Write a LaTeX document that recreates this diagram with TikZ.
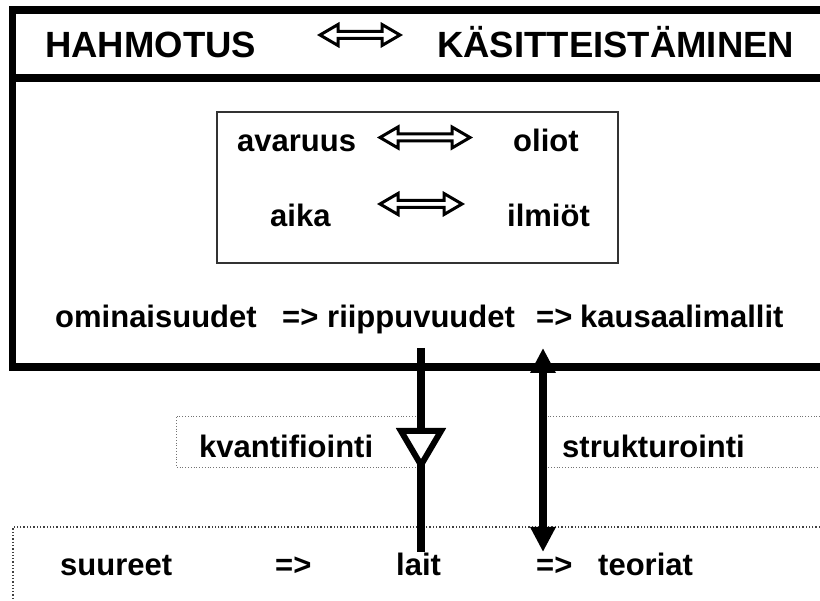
\documentclass[tikz,border=0pt]{standalone}
\usepackage{fontspec}
\setmainfont{Liberation Sans}
\usetikzlibrary{arrows.meta}
\begin{document}
\begin{tikzpicture}[x=1pt,y=-1pt,
  lbl/.style={anchor=base west, inner sep=0pt, font=\bfseries\fontsize{31}{31}\selectfont},
  headlbl/.style={anchor=base west, inner sep=0pt, font=\bfseries\fontsize{36.5}{36.5}\selectfont},
  frame/.style={line width=7.5pt, line join=miter},
  hollow/.style={draw, line width=3pt, fill=white, line join=miter},
  dotbox/.style={draw=black!55, line width=0.8pt, dotted},
  bigdot/.style={draw=black!75, line width=1.3pt, dotted},
  shaft/.style={line width=8pt},
  pics/dblarrow/.style={code={
    \draw[hollow] (0,0) -- (18,-10.5) -- (18,-3.5) -- (#1-18,-3.5) -- (#1-18,-10.5)
      -- (#1,0) -- (#1-18,10.5) -- (#1-18,3.5) -- (18,3.5) -- (18,10.5) -- cycle;}}
]
\useasboundingbox (0,0) rectangle (820,601);

% outer frame: heading strip and main panel
\draw[frame] (820,10) -- (12.5,10) -- (12.5,367) -- (820,367);
\draw[frame] (12.5,78) -- (820,78);

% heading
\node[headlbl] (hahmo) at (45,58) {HAHMOTUS};
\node[headlbl] (kasit) at (437,58) {KÄSITTEISTÄMINEN};
\pic at (320,35) {dblarrow=80};

% inner box
\draw[line width=1.5pt, draw=black!80] (217,112) rectangle (618,263);
\node[lbl] (avaruus) at (237,152) {avaruus};
\node[lbl] (oliot) at (513,152) {oliot};
\node[lbl] (aika) at (270,227) {aika};
\node[lbl] (ilmiot) at (507,227) {ilmiöt};
\pic at (380,137.5) {dblarrow=90};
\pic at (380,204) {dblarrow=82};

% chain in the main panel
\node[lbl] (omin) at (55,328) {ominaisuudet};
\node[lbl] (imp1) at (282,328) {=>};
\node[lbl] (riip) at (327,328) {riippuvuudet};
\node[lbl] (imp2) at (536,328) {=>};
\node[lbl] (kaus) at (580,328) {kausaalimallit};

% dotted label boxes
\draw[dotbox] (421,416) -- (176,416) -- (176,467) -- (421,467);
\draw[dotbox] (820,416) -- (543,416) -- (543,467) -- (820,467);
\node[lbl] (kvant) at (199,458) {kvantifiointi};
\node[lbl] (struk) at (562,458) {strukturointi};

% bottom panel
\draw[bigdot] (820,527) -- (13,527) -- (13,601);
\node[lbl] (suur) at (60,576) {suureet};
\node[lbl] (imp3) at (275,576) {=>};
\node[lbl] (lait) at (396,576) {lait};
\node[lbl] (imp4) at (536,576) {=>};
\node[lbl] (teor) at (598,576) {teoriat};

% connectors between the panels
\coordinate (qtop) at (421,348);
\coordinate (qbot) at (421,552);
\coordinate (stop) at (543,348);
\coordinate (sbot) at (543,552);
\draw[shaft] (qtop) -- (qbot);
\draw[line width=6pt, fill=white, line join=miter] (401,431) -- (441,431) -- (421,465) -- cycle;
\draw[shaft, {Triangle[length=25pt,width=24pt]}-{Triangle[length=25pt,width=24pt]}] (sbot) -- (stop);
\end{tikzpicture}
\end{document}
